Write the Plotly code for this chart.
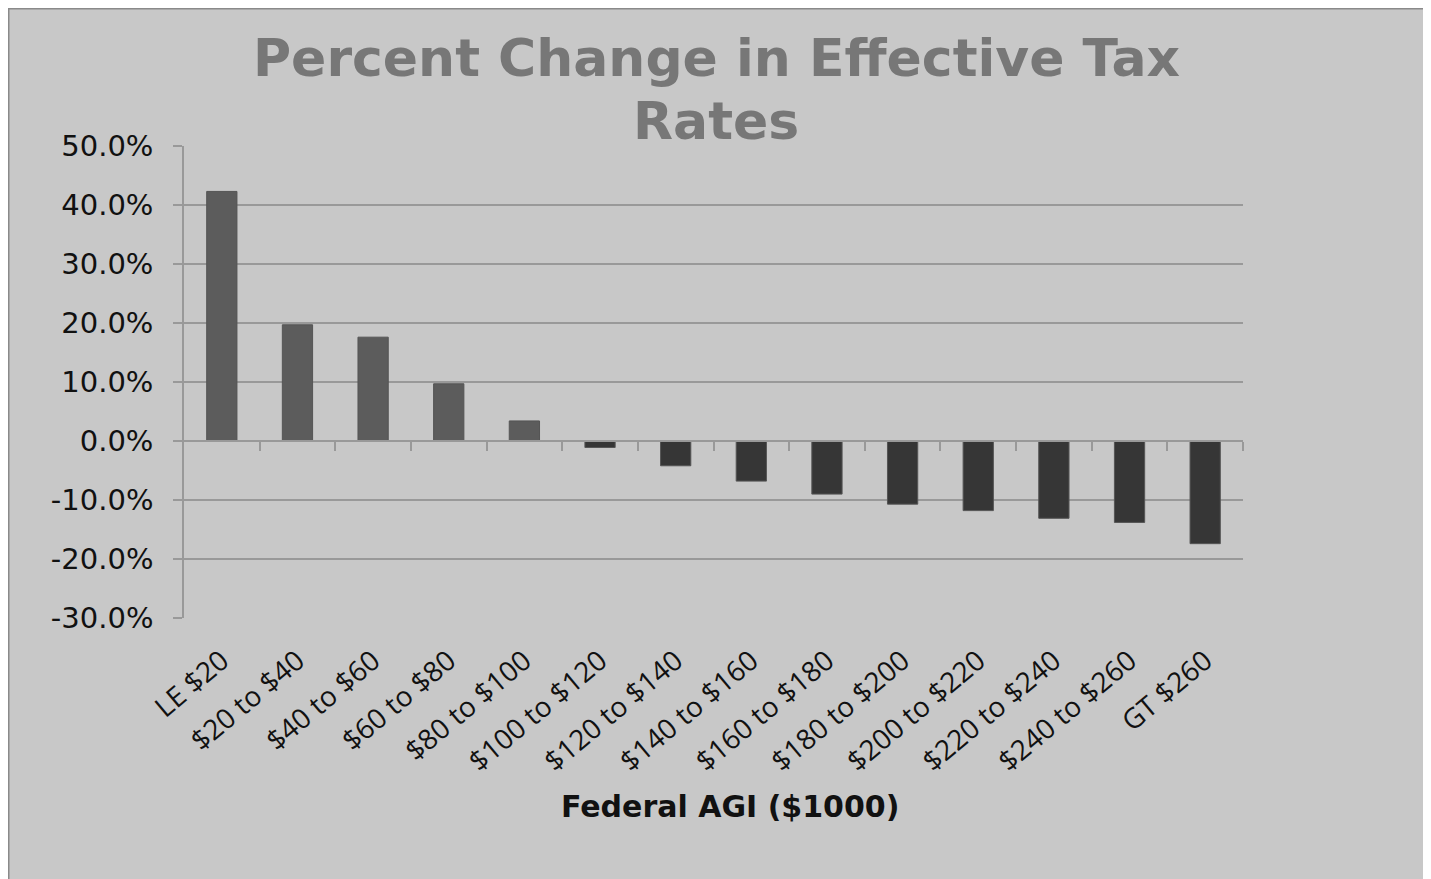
import plotly.graph_objects as go

categories = ["LE $20", "$20 to $40", "$40 to $60", "$60 to $80", "$80 to $100",
              "$100 to $120", "$120 to $140", "$140 to $160", "$160 to $180",
              "$180 to $200", "$200 to $220", "$220 to $240", "$240 to $260", "GT $260"]
pct_change = [42.3, 19.7, 17.6, 9.7, 3.4, -1.1, -4.2, -6.8, -9.0, -10.7, -11.8, -13.1, -13.8, -17.4]
y_ticks = [-30, -20, -10, 0, 10, 20, 30, 40, 50]
y_ticktext = [f"{v:.1f}%" for v in y_ticks]

title_lines = ["Percent Change in Effective Tax", "Rates"]
x_title = "Federal AGI ($1000)"

POS_COLOR = "#5c5c5c"
NEG_COLOR = "#363636"
GRID = "#999999"

OFF = 8  # page body margin
W, H = 1431 - OFF, 879 - OFF
L, R, T, B = 184 - OFF, 188, 146 - OFF, 261
pw, ph = W - L - R, H - T - B

def px_x(p):
    """reference page pixel -> paper x"""
    return (p - OFF - L) / pw

def px_y(p):
    """reference page pixel -> paper y"""
    return (H - B - (p - OFF)) / ph

n = len(categories)
idx = list(range(n))

fig = go.Figure()
fig.add_trace(go.Bar(
    x=categories, y=pct_change,
    marker=dict(color=[POS_COLOR if v >= 0 else NEG_COLOR for v in pct_change],
                line=dict(color="#555555", width=1)),
    width=0.4, hoverinfo="x+y", showlegend=False,
))
fig.add_trace(go.Scatter(x=idx, y=[0] * n, xaxis="x2", mode="markers",
                         marker=dict(opacity=0), showlegend=False, hoverinfo="skip"))

zero_pos = (0 - y_ticks[0]) / (y_ticks[-1] - y_ticks[0])

annotations = [
    dict(text=title_lines[0], xref="paper", yref="paper",
         x=px_x(716), y=px_y(58), xanchor="center", yanchor="middle",
         showarrow=False,
         font=dict(family="DejaVu Sans", size=52, color="#777777", weight="bold")),
    dict(text=title_lines[1], xref="paper", yref="paper",
         x=px_x(716), y=px_y(121), xanchor="center", yanchor="middle",
         showarrow=False,
         font=dict(family="DejaVu Sans", size=52, color="#777777", weight="bold")),
    dict(text=x_title, xref="paper", yref="paper",
         x=px_x(730), y=px_y(806), xanchor="center", yanchor="middle",
         showarrow=False,
         font=dict(family="DejaVu Sans", size=30, color="#111111", weight="bold")),
]

fig.update_layout(
    width=W, height=H,
    margin=dict(l=L, r=R, t=T, b=B, pad=0),
    paper_bgcolor="white",
    plot_bgcolor="rgba(0,0,0,0)",
    showlegend=False,
    xaxis=dict(
        type="category", categoryorder="array", categoryarray=categories,
        range=[-0.5, n - 0.5],
        showline=False, showgrid=False, ticks="", zeroline=False,
        tickangle=-40, ticklabelstandoff=20,
        tickfont=dict(family="Open Sans", size=28, color="#111111"),
    ),
    xaxis2=dict(
        overlaying="x", anchor="free", position=zero_pos, side="bottom",
        range=[-0.5, n - 0.5], showgrid=False, zeroline=False,
        showline=True, linecolor=GRID, linewidth=1.5,
        ticks="outside", ticklen=9, tickcolor=GRID, tickwidth=1.5,
        tickvals=[i + 0.5 for i in idx], showticklabels=False,
    ),
    yaxis=dict(
        range=[y_ticks[0], y_ticks[-1]],
        tickvals=y_ticks, ticktext=y_ticktext,
        showgrid=True, gridcolor=GRID, gridwidth=1.5,
        zeroline=False,
        showline=True, linecolor=GRID, linewidth=1.5,
        ticks="outside", ticklen=9, tickcolor=GRID, tickwidth=1.5,
        ticklabelstandoff=14,
        tickfont=dict(family="DejaVu Sans", size=29, color="#111111"),
    ),
    shapes=[dict(
        type="rect", xref="paper", yref="paper", layer="below",
        x0=px_x(8), x1=px_x(1426), y0=px_y(900), y1=px_y(8),
        fillcolor="#c8c8c8", line=dict(color="#8a8a8a", width=3),
    )],
    annotations=annotations,
)

fig.write_html("out.html")
